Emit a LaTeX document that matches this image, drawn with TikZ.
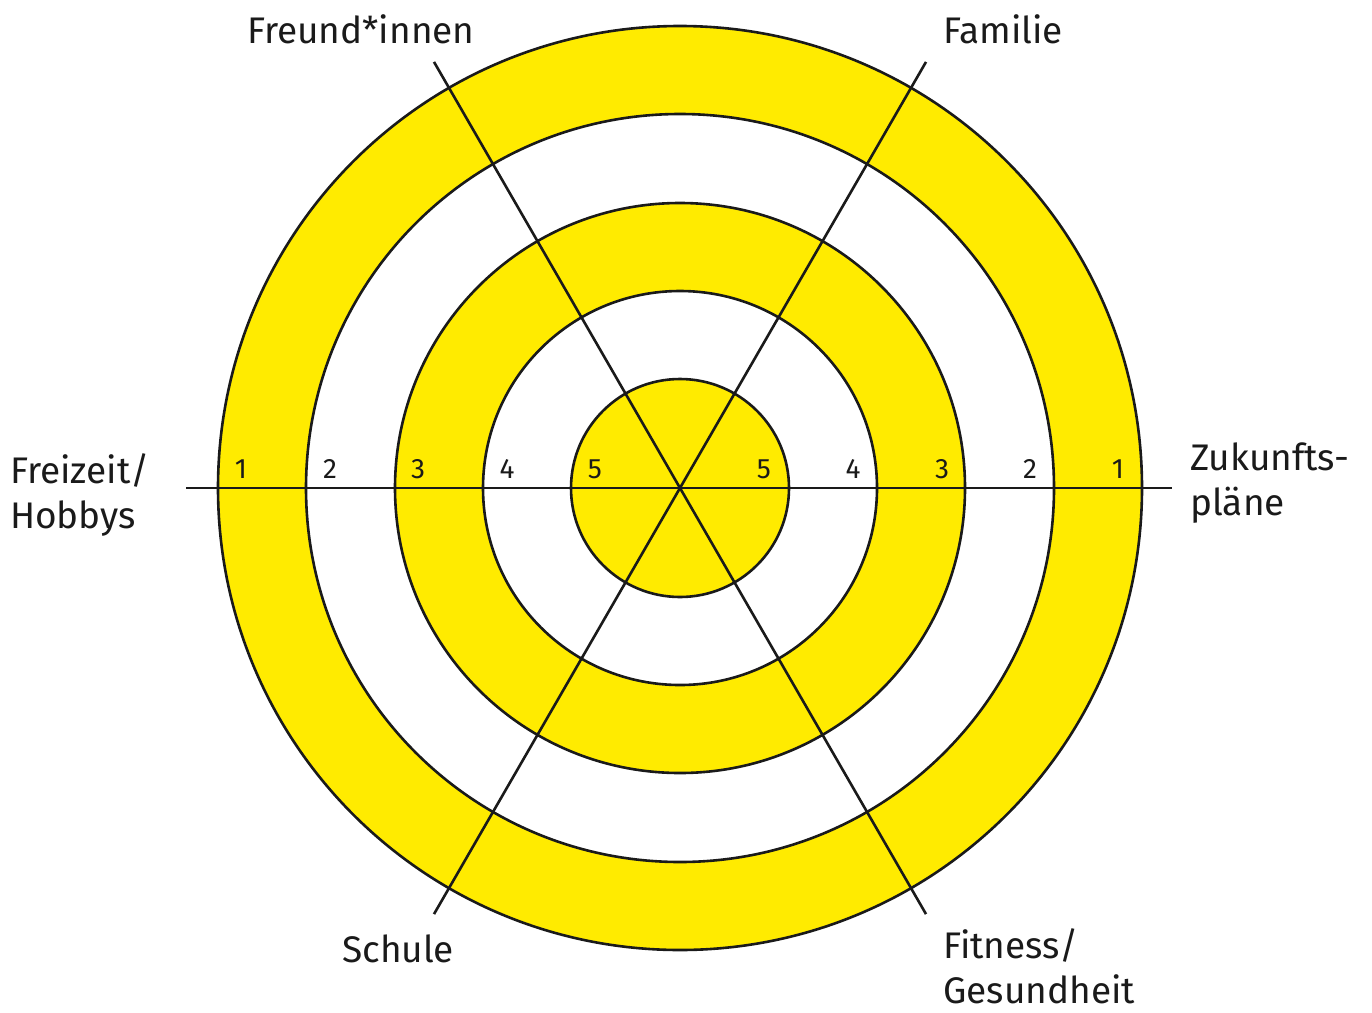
\documentclass[tikz,border=0pt]{standalone}
\usepackage{fontspec}
\setmainfont{Fira Sans}
\usetikzlibrary{calc}
\definecolor{wyellow}{HTML}{FFEB00}
\definecolor{wline}{HTML}{1A1A1A}
\begin{document}
\begin{tikzpicture}[x=1pt,y=-1pt,
  ring/.style={draw=wline,line width=2.6pt},
  spoke/.style={draw=wline,line width=2.6pt},
  num/.style={font=\fontsize{28}{28}\selectfont,text=wline,inner sep=0pt,anchor=base},
  lab/.style={font=\fontsize{37}{45}\selectfont,text=wline,inner sep=0pt,align=left,anchor=base west}]
\useasboundingbox (0,0) rectangle (1372,1012);
\coordinate (c) at (680,488);
\fill[wyellow] (c) circle[radius=462];
\fill[white] (c) circle[radius=374];
\fill[wyellow] (c) circle[radius=285];
\fill[white] (c) circle[radius=197];
\fill[wyellow] (c) circle[radius=109];
\foreach \r in {462,374,285,197,109} \draw[ring] (c) circle[radius=\r];
\coordinate (w) at ($(c)+(-494,0)$);
\coordinate (e) at ($(c)+(492,0)$);
\coordinate (nw) at ($(c)+(-120:492)$);
\coordinate (ne) at ($(c)+(-60:492)$);
\coordinate (sw) at ($(c)+(120:492)$);
\coordinate (se) at ($(c)+(60:492)$);
\draw[spoke] (w) -- (e);
\draw[spoke] (nw) -- (c) -- (se);
\draw[spoke] (ne) -- (c) -- (sw);
\foreach \n/\x in {1/241,2/330,3/418,4/507,5/595} \node[num] (l\n) at (\x,478) {\n};
\foreach \n/\x in {1/1118,2/1030,3/942,4/853,5/764} \node[num] (r\n) at (\x,478) {\n};
\node[lab] (freund) at (247,43) {Freund*innen};
\node[lab] (familie) at (943,43) {Familie};
\node[lab] (zukunft) at (1190,515) {Zukunfts-\\pläne};
\node[lab] (freizeit) at (10,528) {Freizeit/\\Hobbys};
\node[lab] (schule) at (342,962) {Schule};
\node[lab] (fitness) at (943,1003) {Fitness/\\Gesundheit};
\end{tikzpicture}
\end{document}
